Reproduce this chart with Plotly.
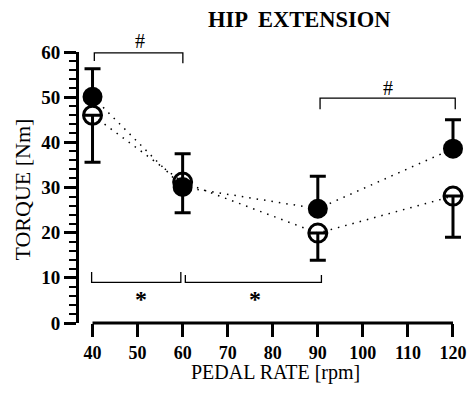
import plotly.graph_objects as go

pedal_rate = [40, 60, 90, 120]
filled_torque = [50.1, 30.1, 25.3, 38.6]
filled_err_up = [6.2, 7.4, 7.2, 6.4]
open_torque = [46.0, 31.2, 19.9, 28.1]
open_err_down = [10.4, 6.8, 6.0, 9.1]

x_ticks = [40, 50, 60, 70, 80, 90, 100, 110, 120]
y_ticks = [0, 10, 20, 30, 40, 50, 60]

Y_MAX = 60
FONT = "Liberation Serif"

fig = go.Figure()

fig.add_trace(go.Scatter(
    x=pedal_rate, y=open_torque, mode="lines+markers",
    line=dict(color="black", width=1.5, dash="1.5px,6px"),
    marker=dict(symbol="circle-open", size=18, color="black", line=dict(width=3, color="black")),
    error_y=dict(type="data", symmetric=False, array=[0]*4, arrayminus=open_err_down,
                 color="black", thickness=3, width=8),
    cliponaxis=False, showlegend=False))

fig.add_trace(go.Scatter(
    x=pedal_rate, y=filled_torque, mode="lines+markers",
    line=dict(color="black", width=1.5, dash="1.5px,6px"),
    marker=dict(symbol="circle", size=20, color="black"),
    error_y=dict(type="data", symmetric=False, array=filled_err_up, arrayminus=[0]*4,
                 color="black", thickness=3, width=8),
    cliponaxis=False, showlegend=False))


def py(v):
    return v / Y_MAX


def bracket(x0, x1, yline, ytip0, ytip1):
    fig.add_shape(type="path",
                  path=f"M {x0},{py(ytip0)} L {x0},{py(yline)} L {x1},{py(yline)} L {x1},{py(ytip1)}",
                  xref="x", yref="paper", line=dict(color="black", width=1.3))


# significance brackets
bracket(40.4, 60.05, 59.8, 58.0, 57.5)
bracket(90.5, 120.5, 49.8, 47.3, 47.3)
bracket(39.8, 59.6, 9.0, 11.3, 11.3)
bracket(60.6, 90.8, 9.0, 10.6, 10.6)

# x axis line (spans 40..120)
fig.add_shape(type="line", x0=40, x1=120, y0=0, y1=0, xref="x", yref="paper",
              line=dict(color="black", width=3))

ann_font = dict(family=FONT, size=20, color="black")
fig.add_annotation(x=50.5, y=py(62.4), xref="x", yref="paper", text="#", showarrow=False,
                   font=ann_font, xanchor="center", yanchor="middle")
fig.add_annotation(x=105.6, y=py(52.0), xref="x", yref="paper", text="#", showarrow=False,
                   font=ann_font, xanchor="center", yanchor="middle")
fig.add_annotation(x=50.7, y=py(5.4), xref="x", yref="paper", text="<b>*</b>", showarrow=False,
                   font=dict(family=FONT, size=24, color="black"), xanchor="center", yanchor="middle")
fig.add_annotation(x=76.0, y=py(5.4), xref="x", yref="paper", text="<b>*</b>", showarrow=False,
                   font=dict(family=FONT, size=24, color="black"), xanchor="center", yanchor="middle")

# titles (placed in pixels, converted to paper coordinates below)
fig.add_annotation(x=302, y=19, xref="paper", yref="paper", text="<b>HIP  EXTENSION</b>",
                   showarrow=False, font=dict(family=FONT, size=22.5, color="black"))
fig.add_annotation(x=278, y=372, xref="paper", yref="paper", text="PEDAL RATE [rpm]",
                   showarrow=False, font=dict(family=FONT, size=20, color="black"))
fig.add_annotation(x=21, y=190, xref="paper", yref="paper", text="TORQUE [Nm]", textangle=-90,
                   showarrow=False, font=dict(family=FONT, size=22, color="black"))

L, R, T, B = 79, 8, 52, 70
W, H = 474, 393
pw, ph = W - L - R, H - T - B
for a in fig.layout.annotations[-3:]:
    a.x = (a.x - L) / pw
    a.y = 1 - (a.y - T) / ph
    a.xanchor = "center"
    a.yanchor = "middle"

fig.update_layout(
    width=W, height=H,
    margin=dict(l=L, r=R, t=T, b=B, pad=0),
    paper_bgcolor="white", plot_bgcolor="white",
    font=dict(family=FONT, color="black"),
    xaxis=dict(range=[37, 122], showgrid=False, zeroline=False, showline=False,
               tickvals=x_ticks, ticks="outside", ticklen=13, tickwidth=3, tickcolor="black",
               tickfont=dict(family=FONT, size=18, color="black", weight="bold")),
    yaxis=dict(range=[0, Y_MAX], showgrid=False, zeroline=False, showline=True,
               linecolor="black", linewidth=3,
               tickvals=y_ticks, ticks="outside", ticklen=12, tickwidth=3, tickcolor="black",
               tickfont=dict(family=FONT, size=19, color="black", weight="bold"),
               minor=dict(dtick=2, ticks="outside", ticklen=7, tickwidth=2, tickcolor="black")),
)

fig.write_html("out.html")
